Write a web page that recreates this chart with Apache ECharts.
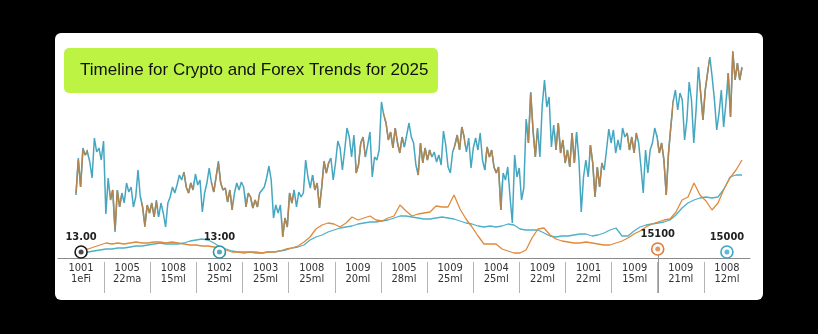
<!DOCTYPE html>
<html><head><meta charset="utf-8">
<script src="https://cdn.jsdelivr.net/npm/echarts@6/dist/echarts.min.js"></script>
<style>html,body{margin:0;padding:0;background:#000;} #c{width:818px;height:334px;}</style>
</head><body><div id="c"></div>
<script>
const titleText = 'Timeline for Crypto and Forex Trends for 2025';
const categories = ['1001\n1eFi','1005\n22ma','1008\n15ml','1002\n25ml','1003\n25ml','1008\n25ml','1009\n20ml','1005\n28ml','1009\n25ml','1004\n25ml','1009\n22ml','1001\n22ml','1009\n15ml','1009\n21ml','1008\n12ml'];

const cryptoNoisy = [
65,98,71,108,103,108,96,80,118,106,110,98,115,46,80,58,68,28,68,51,
65,55,75,65,71,51,61,86,61,51,31,53,45,55,41,56,41,55,45,31,
55,61,71,65,71,83,78,86,71,65,75,68,83,73,78,46,65,75,88,75,
66,81,95,75,68,70,56,68,48,65,75,68,76,71,51,65,61,50,58,51,
65,68,71,80,90,78,40,53,45,53,21,40,31,65,55,68,51,66,61,
65,96,81,70,83,68,75,50,71,96,85,95,100,78,95,115,110,88,108,130,
121,101,123,85,93,115,121,101,113,126,81,101,98,108,155,143,135,118,126,110,
130,115,105,121,111,123,135,121,115,93,83,115,95,110,98,108,101,106,96,103,
93,126,113,91,85,106,113,123,108,131,121,106,120,90,110,120,108,125,98,88,
111,101,108,91,85,91,48,85,78,91,61,35,103,81,90,58,68,
138,115,165,128,101,130,101,151,178,151,161,111,133,108,135,105,118,95,108,91,
125,95,125,98,46,81,98,81,113,95,61,91,71,95,88,108,128,115,128,105,
118,108,130,121,125,108,121,105,125,115,91,65,108,85,108,115,130,121,105,115,
98,63,105,131,155,168,148,165,158,118,138,175,158,115,148,190,165,138,168,185,
200,181,158,128,145,168,131,155,185,141,206,178,195,178,191
];
const forexNoisy = [
63,100,71,110,103,106,96,80,120,106,110,98,117,44,80,58,68,26,68,51,
65,55,75,66,71,51,61,88,61,51,33,53,45,55,41,58,41,55,45,31,
55,61,71,65,73,83,78,86,71,65,75,68,84,73,78,46,65,75,90,75,
66,81,97,75,68,70,56,68,48,65,75,68,76,71,51,65,61,50,58,51,
65,68,71,80,92,78,40,53,45,53,21,40,31,65,55,68,51,66,61,
65,98,81,70,83,68,75,50,71,97,85,95,100,78,95,117,110,88,108,130,
121,101,123,85,93,115,121,101,113,126,81,101,98,108,156,143,135,118,126,110,
130,115,105,121,111,123,135,121,115,93,83,115,95,110,98,108,101,106,96,103,
93,127,113,91,85,106,113,123,108,131,121,106,120,90,110,120,108,125,98,88,
111,101,108,91,85,91,48,85,78,91,61,35,103,81,90,58,70,
139,115,166,128,101,130,101,152,178,151,161,111,133,108,135,105,118,95,108,91,
125,95,126,98,46,81,98,81,113,95,61,91,71,95,88,108,129,115,128,105,
118,108,130,121,125,108,121,105,125,115,91,65,108,85,108,115,130,121,105,115,
98,63,105,131,156,168,148,165,158,118,138,176,158,115,148,191,165,138,168,185,
201,181,158,128,145,168,131,155,185,141,207,178,195,178,190
];
const cryptoTrend = [
8,8,9,11,13,15,14,15,14,15,16,15,15,16,16,15,16,15,14,13,
13,12,12,11,10,8,6,6,5,6,6,5,6,6,7,9,10,12,16,21,
29,33,35,34,31,35,41,38,40,42,38,37,40,42,53,47,42,44,45,46,
52,51,51,63,49,39,31,22,14,14,14,9,7,5,5,8,20,29,30,23,
19,17,16,15,15,16,15,14,13,13,15,17,20,24,27,31,34,36,38,39,
46,58,61,75,63,57,48,55,69,80,88,98
];
const forexTrend = [
6,6,6,7,8,9,9,10,10,11,12,12,13,14,15,14,14,14,15,17,
18,19,18,15,11,9,7,6,6,6,5,5,6,6,7,8,10,11,13,18,
21,23,26,28,30,31,32,34,35,36,36,37,38,40,42,42,41,40,39,39,
40,41,40,39,37,35,34,32,31,32,31,32,34,33,29,28,28,28,25,22,
21,22,22,23,24,24,22,23,25,28,30,22,22,27,31,33,34,35,36,38,
43,50,55,58,60,61,60,61,69,81,83,83
];
const markerPos = [0, 3, 12.5, 14];
const markerVal = [6, 6, 9, 6];
const markerLabels = ['13.00', '13:00', '15100', '15000'];

const markerColors = ['#1c1c1c', '#2e93a9', '#e07b39', '#3aa8c6'];
const Y_MAX = 218;
const FONT = "'Liberation Sans Narrow', 'DejaVu Sans Condensed', 'Liberation Sans', sans-serif";
const brown = '#b08552';
const tealN = '#45a6c0';

// alternating colour segments for the overlapping noisy lines (style only)
const segCycle = [0.021, 0.034, 0.017, 0.029, 0.025, 0.038, 0.015, 0.027, 0.031, 0.019];
const stops = [];
let pos = 0, k = 0, on = true;
while (pos < 1) {
  const next = Math.min(1, pos + segCycle[k % segCycle.length]);
  const c = on ? brown : 'rgba(176,133,82,0)';
  stops.push({offset: pos, color: c}, {offset: next, color: c});
  pos = next; k++; on = !on;
}

// layout of the category band (style/layout constants)
const AX_L = 58, AX_R = 750, W = 818, SEP_BOTTOM = 293;
const band = (AX_R - AX_L) / categories.length;
const sepCats = categories.slice(1, categories.length - 1);

const chart = echarts.init(document.getElementById('c'), null, {renderer: 'canvas'});
const idxN = cryptoNoisy.map((_, i) => i);
const idxT = cryptoTrend.map((_, i) => i);

const baseGraphic = [
  {id: 'card', type: 'rect', z: -10, shape: {x: 55, y: 33, width: 708, height: 267, r: 6}, style: {fill: '#fff'}},
  {id: 'tbox', type: 'rect', z: -9, shape: {x: 64, y: 48, width: 374, height: 45, r: 5}, style: {fill: '#bdf444'}},
  {id: 'ttxt', type: 'text', z: -8, x: 80, y: 70, style: {text: titleText, fill: '#111', font: '17px "Liberation Sans", Arial, sans-serif', verticalAlign: 'middle'}}
];

chart.setOption({
  animation: false,
  backgroundColor: '#000',
  graphic: baseGraphic,
  grid: [
    {left: AX_L, right: W - AX_R, top: 40, bottom: 76},
    {left: 76, right: 76, top: 40, bottom: 76},
    {left: AX_L + band, right: W - AX_R + band, top: 262, bottom: W > 0 ? 334 - SEP_BOTTOM : 41}
  ],
  xAxis: [
    {gridIndex: 0, type: 'category', data: categories, position: 'bottom', boundaryGap: true,
     axisLine: {onZero: false, lineStyle: {color: '#8a8a8a', width: 1}},
     axisTick: {alignWithLabel: true, length: 3, lineStyle: {color: '#8a8a8a'}},
     axisLabel: {margin: 5, fontSize: 11, lineHeight: 11, color: '#333', fontFamily: FONT, interval: 0},
     splitLine: {show: false}},
    {gridIndex: 0, type: 'value', min: -0.5, max: 14.5, show: false, position: 'top'},
    {gridIndex: 2, type: 'category', data: sepCats, position: 'bottom', boundaryGap: true,
     axisLine: {show: false, onZero: false},
     axisTick: {show: true, inside: true, length: 31, lineStyle: {color: '#b3b3b3'}},
     axisLabel: {show: false}, splitLine: {show: false}},
    {gridIndex: 1, type: 'category', data: idxN, boundaryGap: false, show: false, position: 'bottom'},
    {gridIndex: 1, type: 'category', data: idxT, boundaryGap: false, show: false, position: 'top'}
  ],
  yAxis: [
    {gridIndex: 0, type: 'value', min: 0, max: Y_MAX, show: false, splitLine: {show: false}},
    {gridIndex: 1, type: 'value', min: 0, max: Y_MAX, show: false, splitLine: {show: false}},
    {gridIndex: 2, type: 'value', min: 0, max: 1, show: false, splitLine: {show: false}}
  ],
  series: [
    {name: 'Forex', type: 'line', xAxisIndex: 3, yAxisIndex: 1, data: forexNoisy, showSymbol: false, z: 2,
     lineStyle: {color: tealN, width: 1.5}},
    {name: 'Crypto', type: 'line', xAxisIndex: 3, yAxisIndex: 1, data: cryptoNoisy, showSymbol: false, z: 3,
     lineStyle: {color: new echarts.graphic.LinearGradient(0, 0, 1, 0, stops), width: 1.5}},
    {name: 'Forex trend', type: 'line', xAxisIndex: 4, yAxisIndex: 1, data: forexTrend, showSymbol: false, z: 2,
     lineStyle: {color: '#4fb0c8', width: 1.3}},
    {name: 'Crypto trend', type: 'line', xAxisIndex: 4, yAxisIndex: 1, data: cryptoTrend, showSymbol: false, z: 3,
     lineStyle: {color: '#e08a3c', width: 1.3}},
    {type: 'scatter', xAxisIndex: 1, yAxisIndex: 0, z: 5, symbolSize: 12, silent: true, clip: false,
     data: markerPos.map((x, i) => ({value: [x, markerVal[i]], itemStyle: {borderColor: markerColors[i]}})),
     itemStyle: {color: '#fff', borderWidth: 1.6, opacity: 1},
     label: {show: true, position: 'top', distance: 3, formatter: p => markerLabels[p.dataIndex],
       fontSize: 11, fontWeight: 'bold', color: '#222', fontFamily: FONT}},
    {type: 'scatter', xAxisIndex: 1, yAxisIndex: 0, z: 6, symbolSize: 5, silent: true, clip: false,
     data: markerPos.map((x, i) => ({value: [x, markerVal[i]], itemStyle: {color: markerColors[i]}}))}
  ]
});

// stem below the 15100 marker, positioned through the chart's own scale
const pin = chart.convertToPixel({xAxisIndex: 1, yAxisIndex: 0}, [markerPos[2], markerVal[2]]);
if (pin) {
  chart.setOption({graphic: baseGraphic.concat([{
    id: 'stem', type: 'line', z: 1,
    shape: {x1: Math.round(pin[0]) + 0.5, y1: pin[1] + 6, x2: Math.round(pin[0]) + 0.5, y2: SEP_BOTTOM},
    style: {stroke: '#9a9a9a', lineWidth: 1}
  }])});
}
</script>
</body></html>
